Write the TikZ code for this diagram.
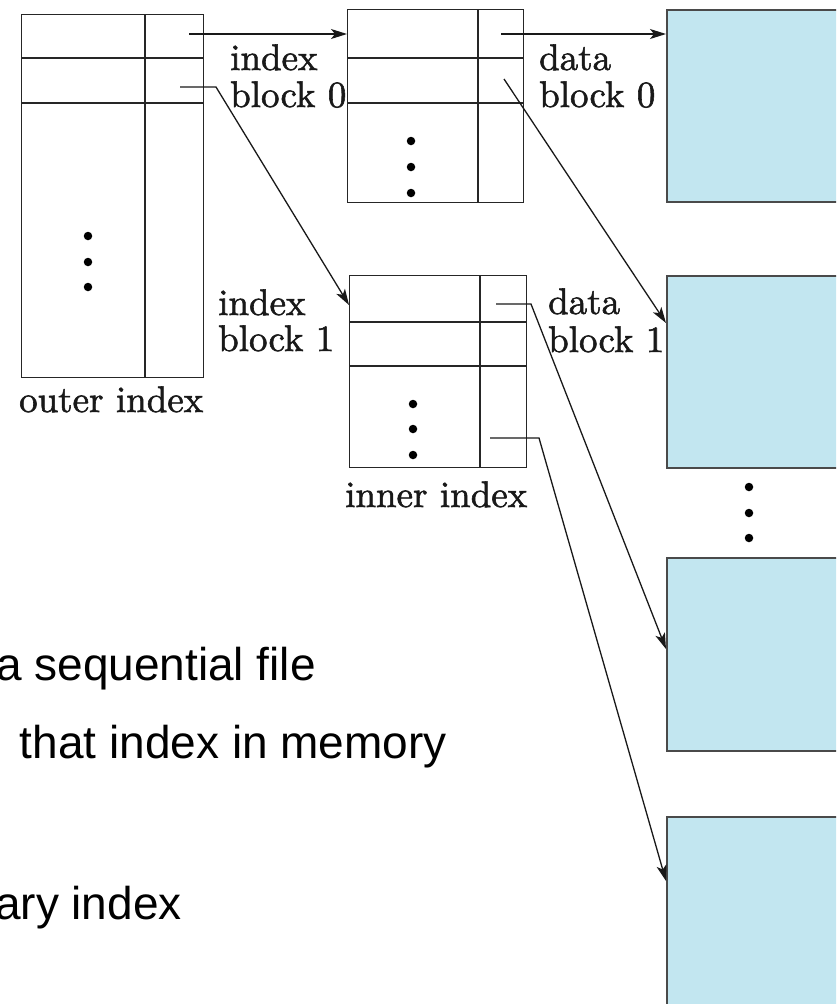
\documentclass[tikz,border=0pt]{standalone}
\usepackage{fontspec}
\newfontfamily\labfont{lmroman10-regular.otf}[FakeBold=1.5]
\newfontfamily\sansf{Liberation Sans}
\usetikzlibrary{arrows.meta}
\definecolor{datafill}{HTML}{C2E6F0}
\definecolor{databorder}{HTML}{4A4A4A}
\begin{document}
\begin{tikzpicture}[x=1pt,y=-1pt,
  tbl/.style={draw=black!85, line width=1.4pt, rectangle, inner sep=0pt, anchor=north west},
  dblk/.style={draw=databorder, fill=datafill, line width=1.5pt, rectangle, inner sep=0pt, anchor=north west},
  lab/.style={font=\labfont\fontsize{37}{37}\selectfont, inner sep=0pt, anchor=base west, text=black!90},
  note/.style={font=\sansf\fontsize{46}{46}\selectfont, inner sep=0pt, anchor=base east},
  ptr/.style={draw=black!90, line width=1.3pt, -{Stealth[length=16pt,width=10pt,inset=4pt]}},
  dotm/.style={circle, fill=black, inner sep=0pt, minimum size=8.5pt},
  cell/.style={draw=black!85, line width=1.4pt}]
\useasboundingbox (0,0) rectangle (836,1004);
\clip (0,0) rectangle (836,1004);

% outer index
\node[tbl, minimum width=182pt, minimum height=363pt] (outer) at (21,14) {};
\draw[cell] (145,14) -- (145,377);
\draw[cell] (21,58) -- (203,58);
\draw[cell] (21,103) -- (203,103);
\node[dotm] (od1) at (88,236) {};
\node[dotm] (od2) at (88,262) {};
\node[dotm] (od3) at (88,287) {};
\node[lab] (outerlab) at (19,412) {outer index};

% index block 0
\node[tbl, minimum width=176pt, minimum height=193pt] (ib0) at (347,9) {};
\draw[cell] (478,9) -- (478,202);
\draw[cell] (347,58) -- (523,58);
\draw[cell] (347,103) -- (523,103);
\node[dotm] (bd1) at (411,141) {};
\node[dotm] (bd2) at (411,167) {};
\node[dotm] (bd3) at (411,193) {};

% index block 1
\node[tbl, minimum width=177pt, minimum height=192pt] (ib1) at (349,275) {};
\draw[cell] (480,275) -- (480,467);
\draw[cell] (349,322) -- (526,322);
\draw[cell] (349,366) -- (526,366);
\node[dotm] (cd1) at (413,404) {};
\node[dotm] (cd2) at (413,429) {};
\node[dotm] (cd3) at (413,455) {};
\node[lab] (innerlab) at (345,507) {inner index};

% data blocks
\node[dblk, minimum width=200pt, minimum height=192pt] (db0) at (666,9) {};
\node[dblk, minimum width=200pt, minimum height=192pt] (db1) at (666,275) {};
\node[dblk, minimum width=200pt, minimum height=193pt] (db2) at (666,557) {};
\node[dblk, minimum width=200pt, minimum height=260pt] (db3) at (666,816) {};
\node[dotm] (dd1) at (749,487) {};
\node[dotm] (dd2) at (749,513) {};
\node[dotm] (dd3) at (749,538) {};

% labels
\node[lab] (l0a) at (230,70) {index};
\node[lab] (l0b) at (230,107) {block 0};
\node[lab] (l1a) at (218,315) {index};
\node[lab] (l1b) at (218,351) {block 1};
\node[lab] (d0a) at (539,70) {data};
\node[lab] (d0b) at (539,107) {block 0};
\node[lab] (d1a) at (548,314) {data};
\node[lab] (d1b) at (548,352) {block 1};

% pointers
\coordinate (s1) at (189,34);
\coordinate (e1) at (347,34);
\draw[ptr] (s1) -- (e1);
\coordinate (s2) at (180,87);
\coordinate (k2) at (216,87);
\coordinate (e2) at (349,305);
\draw[ptr] (s2) -- (k2) -- (e2);
\coordinate (s3) at (501,34);
\coordinate (e3) at (666,34);
\draw[ptr] (s3) -- (e3);
\coordinate (s4) at (504,79);
\coordinate (e4) at (666,323);
\draw[ptr] (s4) -- (e4);
\coordinate (s5) at (496,304);
\coordinate (k5) at (531,304);
\coordinate (e5) at (666,649);
\draw[ptr] (s5) -- (k5) -- (e5);
\coordinate (s6) at (490,438);
\coordinate (k6) at (539,438);
\coordinate (e6) at (666,881);
\draw[ptr] (s6) -- (k6) -- (e6);

% slide text fragments
\node[note] (n1) at (316,680) {a sequential file};
\node[note] (n2) at (447,758) {that index in memory};
\node[note] (n3) at (182,919) {ary index};
\end{tikzpicture}
\end{document}
